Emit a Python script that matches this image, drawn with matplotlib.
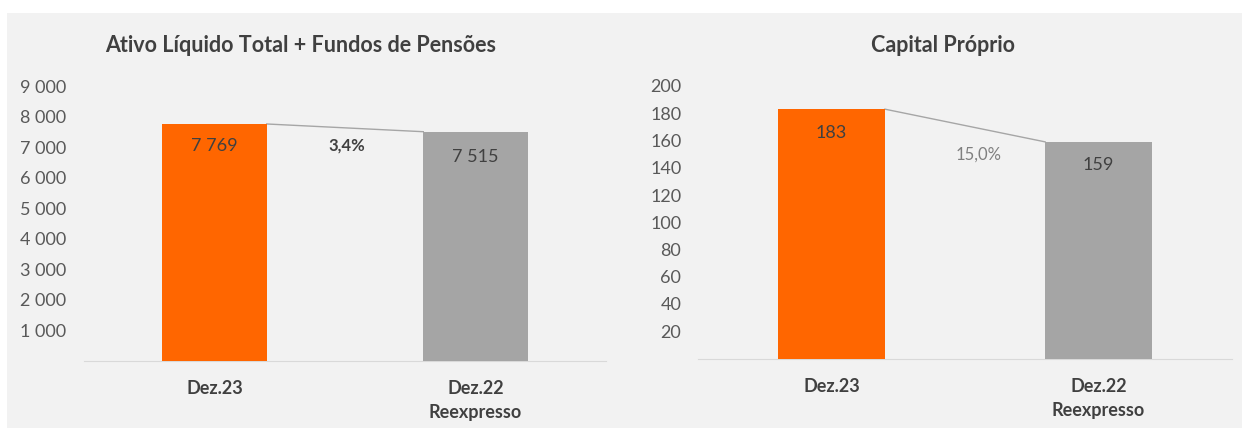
import matplotlib
matplotlib.use("Agg")
import matplotlib.pyplot as plt
from matplotlib.patches import Rectangle

plt.rcParams['font.family'] = ['Lato', 'DejaVu Sans']

# ---------------------------------------------
# Dados
categorias = ["Dez.23", "Dez.22\nReexpresso"]
ativo = [7769, 7515]
capital = [183, 159]
ativo_labels = ["7 769", "7 515"]
capital_labels = ["183", "159"]
ativo_var = "3,4%"
capital_var = "15,0%"
ativo_ticks = [1000, 2000, 3000, 4000, 5000, 6000, 7000, 8000, 9000]
capital_ticks = [20, 40, 60, 80, 100, 120, 140, 160, 180, 200]

cores = ["#FF6600", "#A5A5A5"]
texto = "#404040"
W = 0.4


def fmt_milhar(v):
    return "{:,}".format(v).replace(",", " ")


def grafico(ax, vals, labels, ticks, ymax, var, var_pos, var_style, offs):
    x = range(len(vals))
    ax.bar(x, vals, width=W, color=cores, zorder=3)
    # linha de ligacao entre os topos
    ax.plot([0 + W / 2, 1 - W / 2], [vals[0], vals[1]], color="#A6A6A6", lw=1, zorder=2)
    for i, (v, l) in enumerate(zip(vals, labels)):
        ax.annotate(l, (i, v), xytext=(0, offs[i]), textcoords="offset points",
                    ha="center", va="center", fontsize=13, color=texto, zorder=4)
    ax.text(var_pos[0], var_pos[1], var, ha="center", va="center", fontsize=12, **var_style)
    ax.set_xlim(-0.5, 1.5)
    ax.set_ylim(0, ymax)
    ax.set_yticks(ticks)
    ax.set_yticklabels([fmt_milhar(t) for t in ticks])
    ax.set_xticks(list(x))
    ax.set_xticklabels(categorias, fontweight="bold", linespacing=1.5, va="top")
    ax.tick_params(axis="both", length=0, labelsize=13, labelcolor="#595959")
    ax.tick_params(axis="x", pad=14, labelcolor=texto)
    for s in ["top", "right", "left"]:
        ax.spines[s].set_visible(False)
    ax.spines["bottom"].set_color("#D9D9D9")
    ax.set_facecolor("none")


# ============================================
fig = plt.figure(figsize=(12.42, 4.30), dpi=100)
fig.patches.append(Rectangle((7 / 1242, 2 / 430), 1, 415 / 430, transform=fig.transFigure,
                             facecolor="#F2F2F2", edgecolor="none", zorder=-10))

ax1 = fig.add_axes([84 / 1242, 69.5 / 430, 522 / 1242, 274 / 430])
grafico(ax1, ativo, ativo_labels, ativo_ticks, 9000, ativo_var, (0.508, 7050),
        dict(fontweight="bold", color=texto), [-16, -18])
ax1.tick_params(axis="y", pad=13)

ax2 = fig.add_axes([698 / 1242, 71.5 / 430, 534 / 1242, 272.5 / 430])
grafico(ax2, capital, capital_labels, capital_ticks, 200, capital_var, (0.55, 150),
        dict(color="#7F7F7F"), [-17, -17])
ax2.tick_params(axis="y", pad=12)

fig.text(301 / 1242, 1 - 45 / 430, "Ativo Líquido Total + Fundos de Pensões",
         ha="center", va="center", fontsize=15.5, fontweight="bold", color=texto)
fig.text(943 / 1242, 1 - 45 / 430, "Capital Próprio",
         ha="center", va="center", fontsize=15.5, fontweight="bold", color=texto)

fig.savefig("out.png", dpi=100)
